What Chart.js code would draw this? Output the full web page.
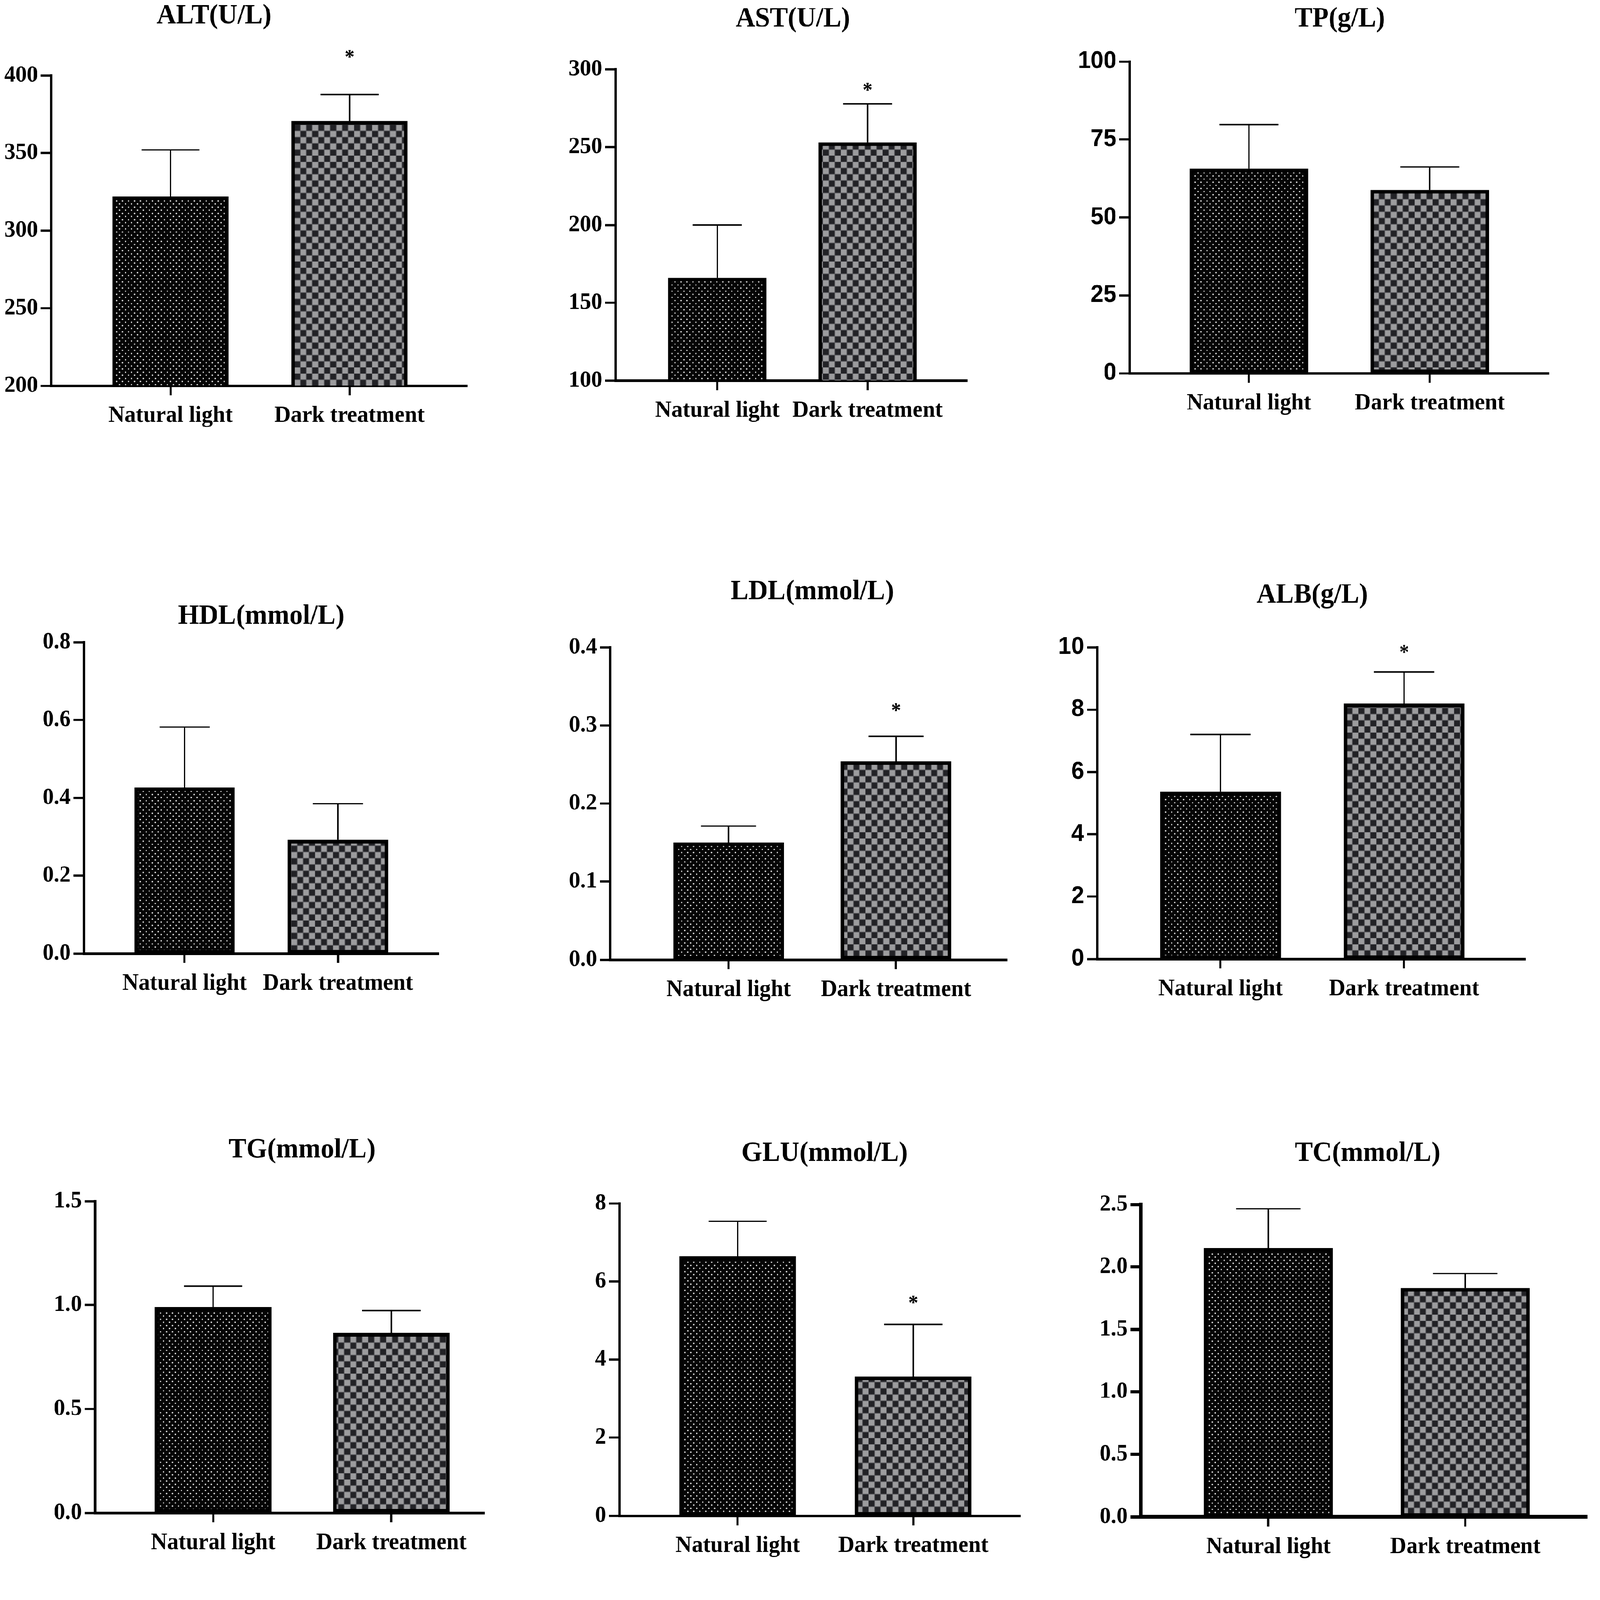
<!DOCTYPE html>
<html>
<head>
<meta charset="utf-8">
<script src="https://cdn.jsdelivr.net/npm/chart.js@4.4.1/dist/chart.umd.min.js"></script>
<style>
html, body { margin: 0; padding: 0; background: #fff; overflow: hidden; }
#page { position: absolute; left: 0; top: 0; width: 4550px; height: 4368px; overflow: hidden; background: #fff; transform-origin: 0 0; }
#page canvas { position: absolute; }
</style>
</head>
<body>
<div id="page"></div>
<script>
// data
const categories = ['Natural light', 'Dark treatment'];
const titles = ['ALT(U/L)', 'AST(U/L)', 'TP(g/L)', 'HDL(mmol/L)', 'LDL(mmol/L)', 'ALB(g/L)', 'TG(mmol/L)', 'GLU(mmol/L)', 'TC(mmol/L)'];
const naturalMean = [322, 166, 65.6, 0.426, 0.150, 5.36, 0.99, 6.64, 2.15];
const naturalSD = [30, 34, 14.2, 0.156, 0.021, 1.84, 0.10, 0.90, 0.315];
const darkMean = [370.5, 253, 58.8, 0.292, 0.254, 8.19, 0.865, 3.56, 1.83];
const darkSD = [17.2, 24.7, 7.4, 0.093, 0.032, 1.02, 0.108, 1.34, 0.117];
const darkStar = [true, true, false, false, true, true, false, true, false];
const yMin = [200, 100, 0, 0, 0, 0, 0, 0, 0];
const yMax = [400, 300, 100, 0.8, 0.4, 10, 1.5, 8, 2.5];
const yStep = [50, 50, 25, 0.2, 0.1, 2, 0.5, 2, 0.5];
const yDecimals = [0, 0, 0, 1, 1, 0, 1, 0, 1];

// where each plot sits on the page (left, top, right, bottom), x range, bar width, title centre, star gap
const layout = [
  { box: [145, 206, 1329, 1053], xr: [-0.668, 1.658], bar: 330, title: [609, 44], star: 113, sans: false, axis: 7 },
  { box: [1750, 189, 2751, 1039], xr: [-0.679, 1.665], bar: 279, title: [2255, 52], star: 49, sans: false, axis: 7 },
  { box: [3212, 168, 4405, 1019], xr: [-0.661, 1.66], bar: 336, title: [3810, 52], star: 60, sans: true, axis: 7 },
  { box: [238, 1753, 1248, 2603], xr: [-0.658, 1.658], bar: 285, title: [743, 1683], star: 60, sans: false, axis: 7 },
  { box: [1735, 1767, 2864, 2620], xr: [-0.708, 1.664], bar: 314, title: [2310, 1616], star: 81, sans: false, axis: 7 },
  { box: [3120, 1767, 4338, 2618], xr: [-0.672, 1.661], bar: 343, title: [3732, 1625], star: 64, sans: true, axis: 7 },
  { box: [270, 3279, 1378, 4130], xr: [-0.663, 1.523], bar: 332, title: [859, 3140], star: 60, sans: false, axis: 7 },
  { box: [1761, 3285, 2902, 4138], xr: [-0.675, 1.611], bar: 331, title: [2345, 3149], star: 70, sans: false, axis: 7 },
  { box: [3244, 3288, 4513, 4141], xr: [-0.648, 1.618], bar: 366, title: [3889, 3149], star: 60, sans: false, axis: 10 }
];

const SERIF = "'Liberation Serif', 'Times New Roman', serif";
const SANS = "'Liberation Sans', Arial, sans-serif";

// fill patterns: white dots on black, grey checkerboard
function dotPattern() {
  const c = document.createElement('canvas');
  c.width = 17; c.height = 17;
  const g = c.getContext('2d');
  g.fillStyle = '#050505';
  g.fillRect(0, 0, 17, 17);
  g.fillStyle = '#dcdcdc';
  [[4.5, 4.5], [13, 13]].forEach(p => {
    g.beginPath(); g.arc(p[0], p[1], 2.1, 0, Math.PI * 2); g.fill();
  });
  return c;
}
function checkPattern() {
  const c = document.createElement('canvas');
  c.width = 34; c.height = 34;
  const g = c.getContext('2d');
  g.fillStyle = '#5a5a5e';
  g.fillRect(0, 0, 34, 34);
  g.fillStyle = '#9c9c9e';
  g.fillRect(18, 1, 15, 15);
  g.fillRect(1, 18, 15, 15);
  g.fillStyle = '#222226';
  g.fillRect(1, 1, 15, 15);
  g.fillRect(18, 18, 15, 15);
  return c;
}

const errorBars = {
  id: 'errorBars',
  afterDatasetsDraw(chart, args, opts) {
    const ctx = chart.ctx;
    const y = chart.scales.y;
    const meta = chart.getDatasetMeta(0);
    ctx.save();
    ctx.strokeStyle = '#000';
    ctx.lineWidth = 4;
    ctx.fillStyle = '#000';
    ctx.font = 'bold 56px ' + SERIF;
    ctx.textAlign = 'center';
    ctx.textBaseline = 'alphabetic';
    meta.data.forEach((bar, i) => {
      const top = y.getPixelForValue(opts.means[i] + opts.sds[i]);
      const half = bar.width * 0.25;
      ctx.beginPath();
      ctx.moveTo(bar.x, bar.y);
      ctx.lineTo(bar.x, top);
      ctx.moveTo(bar.x - half, top);
      ctx.lineTo(bar.x + half, top);
      ctx.stroke();
      if (opts.stars[i]) ctx.fillText('*', bar.x, top - opts.gap + 29);
    });
    ctx.restore();
  }
};

const panelTitle = {
  id: 'panelTitle',
  afterDraw(chart, args, opts) {
    const ctx = chart.ctx;
    ctx.save();
    ctx.fillStyle = '#000';
    ctx.font = 'bold 76px ' + SERIF;
    ctx.textAlign = 'center';
    ctx.textBaseline = 'middle';
    ctx.fillText(opts.text, opts.x, opts.y);
    ctx.restore();
  }
};

const page = document.getElementById('page');
const dots = dotPattern();
const checks = checkPattern();

// the browser hands us a smaller viewport than asked for, so stretch the figure to fill it
const sx = window.innerWidth / 4550, sy = window.innerHeight / 4368;
page.style.transform = 'scale(' + sx + ',' + sy + ')';

titles.forEach((title, i) => {
  const lay = layout[i];
  const [L, T, R, B] = lay.box;
  const yW = 260, xH = 180, padR = 30;
  const padT = Math.min(260, T);
  const left = L - yW, top = T - padT;

  const cv = document.createElement('canvas');
  cv.width = R - L + yW + padR;
  cv.height = B - T + padT + xH;
  cv.style.left = left + 'px';
  cv.style.top = top + 'px';
  page.appendChild(cv);
  const ctx = cv.getContext('2d');

  const means = [naturalMean[i], darkMean[i]];
  const sds = [naturalSD[i], darkSD[i]];

  new Chart(ctx, {
    type: 'bar',
    data: {
      datasets: [{
        data: categories.map((c, k) => ({ x: k, y: means[k] })),
        backgroundColor: [ctx.createPattern(dots, 'repeat'), ctx.createPattern(checks, 'repeat')],
        borderColor: '#000',
        borderWidth: 10,
        borderSkipped: false,
        barThickness: lay.bar
      }]
    },
    options: {
      responsive: false,
      animation: false,
      devicePixelRatio: 1,
      layout: { padding: { top: padT, right: padR, left: 0, bottom: 0 } },
      plugins: {
        legend: { display: false },
        tooltip: { enabled: false },
        errorBars: { means: means, sds: sds, stars: [false, darkStar[i]], gap: lay.star },
        panelTitle: { text: title, x: lay.title[0] - left, y: lay.title[1] - top }
      },
      scales: {
        x: {
          type: 'linear',
          min: lay.xr[0],
          max: lay.xr[1],
          offset: false,
          afterBuildTicks: s => { s.ticks = categories.map((c, k) => ({ value: k })); },
          afterFit: s => { s.height = xH; },
          ticks: {
            callback: v => categories[v],
            color: '#000',
            padding: 18,
            maxRotation: 0,
            autoSkip: false,
            font: { family: SERIF, size: 64, weight: 'bold' }
          },
          grid: { offset: false, drawOnChartArea: false, drawTicks: true, tickLength: 26, tickWidth: 6, tickColor: '#000' },
          border: { display: true, color: '#000', width: lay.axis }
        },
        y: {
          min: yMin[i],
          max: yMax[i],
          afterFit: s => { s.width = yW; },
          ticks: {
            stepSize: yStep[i],
            callback: v => Number(v).toFixed(yDecimals[i]),
            color: '#000',
            padding: 8,
            font: { family: lay.sans ? SANS : SERIF, size: lay.sans ? 66 : 64, weight: 'bold' }
          },
          grid: { drawOnChartArea: false, drawTicks: true, tickLength: 29, tickWidth: lay.axis - 1, tickColor: '#000' },
          border: { display: true, color: '#000', width: lay.axis }
        }
      }
    },
    plugins: [errorBars, panelTitle]
  });
});
</script>
</body>
</html>
